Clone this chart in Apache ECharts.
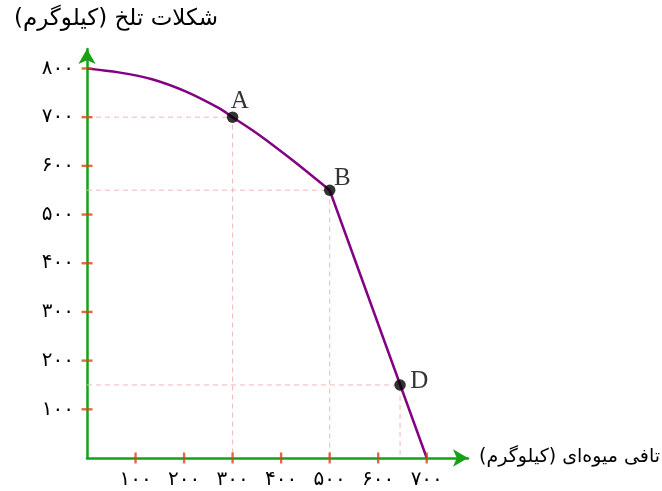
<!DOCTYPE html>
<html><head><meta charset="utf-8">
<script src="https://cdn.jsdelivr.net/npm/echarts@6/dist/echarts.min.js"></script>
<style>html,body{margin:0;padding:0;background:#fff}#c{width:662px;height:491px}</style>
</head><body><div id="c"></div>
<script>
// ---- data ----
const xTicks = [100, 200, 300, 400, 500, 600, 700];
const yTicks = [100, 200, 300, 400, 500, 600, 700, 800];
const curvePts = [[0, 800], [65, 792], [134, 778], [203, 753], [271, 719], [300, 700], [354, 664], [423, 612], [500, 550]];
const linePts = [[500, 550], [700, 0]];
const pointNames = ['A', 'B', 'D'];
const pointX = [300, 500, 645];
const pointY = [700, 550, 150];
const xTitle = '\u200Fتافی میوه‌ای (کیلوگرم)\u200F';
const yTitle = '\u200Fشکلات تلخ (کیلوگرم)\u200F';

// ---- styles ----
const labelPos = {A: [4, -22], B: [10, -19], D: [16, -10]};
const fa = s => String(s).replace(/[0-9]/g, d => '۰۱۲۳۴۵۶۷۸۹'[+d]);
const green = '#16a116', tickRed = '#dc4418', purple = '#820082', guide = '#f1b8b8';
const F = '"DejaVu Sans", sans-serif';

const series = [];
pointNames.forEach((n, i) => {
  series.push({type: 'line', data: [[0, pointY[i]], [pointX[i], pointY[i]], [pointX[i], 0]],
    symbol: 'none', lineStyle: {color: guide, width: 1, type: [5, 4]}, z: 1, silent: true});
});
series.push({type: 'line', data: curvePts, smooth: 0.3, symbol: 'none',
  lineStyle: {color: purple, width: 2.5}, z: 3});
series.push({type: 'line', data: linePts, symbol: 'none', lineStyle: {color: purple, width: 2.5}, z: 3});
series.push({type: 'scatter', data: xTicks.map(v => [v, 0]), symbol: 'rect', symbolSize: [2.4, 11],
  itemStyle: {color: tickRed}, z: 4, silent: true});
series.push({type: 'scatter', data: yTicks.map(v => [0, v]), symbol: 'rect', symbolSize: [11, 2.4],
  itemStyle: {color: tickRed}, z: 4, silent: true});
series.push({type: 'scatter', symbolSize: 11.5, itemStyle: {color: '#000'}, z: 5,
  label: {show: true, formatter: p => p.name,
    fontFamily: '"Liberation Serif", "DejaVu Serif", serif', fontSize: 25, color: '#000'},
  data: pointNames.map((n, i) => ({value: [pointX[i], pointY[i]], name: n,
    label: {position: labelPos[n]}}))});

const chart = echarts.init(document.getElementById('c'), null, {renderer: 'canvas'});
chart.setOption({
  animation: false,
  grid: {left: 87, right: 194, top: 49, bottom: 33, containLabel: false},
  xAxis: {type: 'value', min: 0, max: 785, interval: 100,
    axisLine: {show: true, onZero: false, lineStyle: {color: green, width: 2.5}, symbol: ['none', 'arrow'], symbolSize: [13, 15]},
    axisTick: {show: false}, splitLine: {show: false},
    axisLabel: {margin: 12, fontFamily: F, fontSize: 20, color: '#000',
      formatter: v => (v > 0 && v <= 700) ? fa(v) : ''}},
  yAxis: {type: 'value', min: 0, max: 840, interval: 100,
    axisLine: {show: true, onZero: false, lineStyle: {color: green, width: 2.5}, symbol: ['none', 'arrow'], symbolSize: [13, 15]},
    axisTick: {show: false}, splitLine: {show: false},
    axisLabel: {margin: 13, fontFamily: F, fontSize: 20, color: '#000',
      formatter: v => (v > 0 && v <= 800) ? fa(v) : ''}},
  graphic: [
    {type: 'text', x: 218, y: 19, style: {text: yTitle, font: '23px ' + F, fill: '#000', textAlign: 'right', textVerticalAlign: 'middle'}},
    {type: 'text', x: 660, y: 457, style: {text: xTitle, font: '19px ' + F, fill: '#000', textAlign: 'right', textVerticalAlign: 'middle'}}
  ],
  series: series
});
</script>
</body></html>
